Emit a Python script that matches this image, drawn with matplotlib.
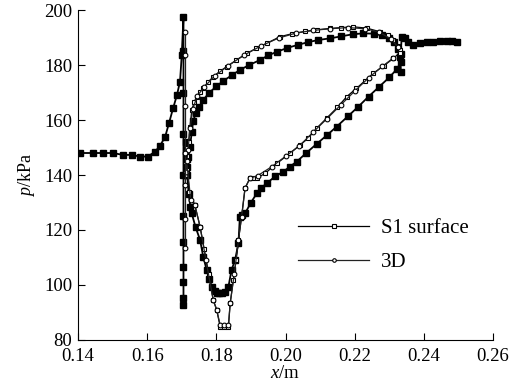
import matplotlib
matplotlib.use("Agg")
import matplotlib.pyplot as plt
import numpy as np

plt.rcParams['font.family'] = ['Liberation Serif', 'DejaVu Serif']
plt.rcParams['mathtext.fontset'] = 'custom'
plt.rcParams['mathtext.it'] = 'Liberation Serif:italic'
plt.rcParams['mathtext.rm'] = 'Liberation Serif'

# ---- filled-square series (unlabelled) ----
fill_up_x = [0.1405, 0.1443, 0.1472, 0.1501, 0.1530, 0.1556, 0.1579, 0.1602, 0.1623,
             0.1637, 0.1652, 0.1663, 0.1675, 0.1686, 0.1695, 0.1700, 0.1705,
             0.1705, 0.1705, 0.1705, 0.1705, 0.1705, 0.1705, 0.1705, 0.1705, 0.1705, 0.1705]
fill_up_p = [148.0, 148.0, 148.0, 148.0, 147.3, 147.3, 146.7, 146.7, 148.5,
             150.6, 153.9, 158.8, 164.3, 169.0, 174.0, 183.6, 197.6,
             185.0, 170.0, 155.0, 140.0, 125.0, 115.8, 106.7, 101.2, 95.2, 92.7]

fill_top_x = [0.1712, 0.1716, 0.1719, 0.1724, 0.1729, 0.1733, 0.1740, 0.1750, 0.1762, 0.1780,
              0.1800, 0.1820, 0.1845, 0.1868, 0.1895, 0.1926, 0.1950, 0.1975, 0.2005, 0.2035,
              0.2065, 0.2095, 0.2129, 0.2160, 0.2195, 0.2225, 0.2255, 0.2280, 0.2300, 0.2315,
              0.2325, 0.2331]
fill_top_p = [140.0, 143.0, 146.7, 150.3, 155.7, 159.5, 162.4, 164.8, 167.3, 170.0,
              172.2, 174.2, 176.3, 178.2, 180.0, 181.8, 183.5, 184.8, 186.2, 187.3,
              188.3, 189.1, 189.7, 190.4, 191.2, 191.5, 191.4, 190.8, 189.8, 188.3,
              186.0, 183.0]

fill_bot_x = [0.1712, 0.1714, 0.1716, 0.1720, 0.1725, 0.1729, 0.1740, 0.1753, 0.1762, 0.1772,
              0.1780, 0.1787, 0.1795, 0.1801, 0.1808, 0.1816, 0.1825, 0.1835, 0.1844, 0.1854,
              0.1864, 0.1868, 0.1875, 0.1883, 0.1900, 0.1917, 0.1930, 0.1946, 0.1970, 0.1994,
              0.2012, 0.2032, 0.2060, 0.2090, 0.2120, 0.2148, 0.2180, 0.2210, 0.2240, 0.2270,
              0.2300, 0.2322, 0.2333]
fill_bot_p = [152.0, 146.0, 140.0, 133.0, 128.5, 126.0, 121.0, 116.4, 110.3, 105.5,
              102.0, 99.4, 97.8, 97.0, 97.0, 97.0, 97.5, 99.4, 105.5, 109.0,
              115.2, 124.8, 125.5, 126.0, 130.0, 133.3, 135.3, 137.0, 139.5, 141.2,
              143.0, 144.8, 148.0, 151.3, 154.5, 157.6, 161.3, 164.8, 168.5, 172.0,
              175.5, 178.5, 181.0]

fill_wake_x = [0.2333, 0.2333, 0.2336, 0.2345, 0.2355, 0.2370, 0.2389, 0.2408, 0.2427, 0.2446,
               0.2466, 0.2480, 0.2495]
fill_wake_p = [177.6, 184.0, 190.3, 189.8, 188.5, 187.3, 187.9, 188.3, 188.5, 188.7,
               188.8, 188.6, 188.5]

# ---- S1 surface (open squares) ----
s1_top_x = [0.1712, 0.1716, 0.1720, 0.1724, 0.1729, 0.1736, 0.1743, 0.1752, 0.1762, 0.1776,
            0.1791, 0.1810, 0.1830, 0.1858, 0.1888, 0.1916, 0.1946, 0.1984, 0.2020, 0.2055,
            0.2090, 0.2129, 0.2160, 0.2196, 0.2235, 0.2273, 0.2295, 0.2312, 0.2325, 0.2331]
s1_top_p = [140.0, 147.0, 152.0, 157.6, 163.6, 166.5, 168.5, 170.2, 171.5, 173.8,
            175.7, 177.7, 179.4, 181.8, 184.2, 186.1, 187.9, 190.3, 191.4, 192.2,
            192.8, 193.3, 193.6, 193.9, 193.4, 192.1, 190.8, 189.1, 187.0, 185.5]
s1_bot_x = [0.1712, 0.1716, 0.1722, 0.1738, 0.1753, 0.1765, 0.1778, 0.1791, 0.1801, 0.1811,
            0.1823, 0.1835, 0.1840, 0.1849, 0.1857, 0.1864, 0.1873, 0.1883, 0.1897, 0.1907,
            0.1917, 0.1941, 0.1975, 0.2013, 0.2042, 0.2065, 0.2090, 0.2120, 0.2150, 0.2177,
            0.2205, 0.2230, 0.2254, 0.2285, 0.2312, 0.2330]
s1_bot_p = [150.0, 142.0, 134.0, 129.0, 121.2, 113.0, 104.0, 94.5, 91.0, 84.8,
            84.8, 84.8, 93.3, 101.8, 109.0, 116.4, 124.8, 135.2, 138.8, 138.8,
            138.8, 140.6, 144.2, 147.9, 150.9, 153.3, 157.0, 160.8, 164.6, 168.5,
            171.5, 174.3, 177.0, 179.8, 182.4, 184.5]

# ---- 3D (open circles) ----
d3_shock_x = [0.1708, 0.1708, 0.1708, 0.1708, 0.1708, 0.1708, 0.1708]
d3_shock_p = [192.0, 183.6, 165.0, 148.0, 136.4, 124.0, 113.3]
d3_top_x = [0.1712, 0.1718, 0.1724, 0.1732, 0.1745, 0.1765, 0.1795, 0.1835, 0.1880, 0.1930,
            0.1980, 0.2030, 0.2080, 0.2130, 0.2180, 0.2230, 0.2270, 0.2305, 0.2325]
d3_top_p = [141.0, 149.0, 157.0, 164.0, 168.8, 172.0, 176.0, 179.8, 183.6, 187.0,
            189.8, 191.6, 192.6, 193.2, 193.6, 193.2, 192.0, 189.5, 186.5]
d3_bot_x = [0.1714, 0.1726, 0.1738, 0.1753, 0.1770, 0.1791, 0.1801, 0.1811, 0.1823, 0.1835,
            0.1840, 0.1852, 0.1864, 0.1873, 0.1883, 0.1897, 0.1920, 0.1960, 0.2000, 0.2040,
            0.2080, 0.2120, 0.2160, 0.2200, 0.2240, 0.2280, 0.2312]
d3_bot_p = [145.0, 131.0, 129.0, 121.2, 109.0, 94.5, 91.0, 85.5, 85.5, 85.5,
            93.3, 104.0, 116.4, 124.8, 135.2, 138.8, 139.8, 143.0, 146.8, 150.6,
            155.6, 160.5, 165.5, 170.5, 175.3, 179.5, 182.6]

xticks = [0.14, 0.16, 0.18, 0.20, 0.22, 0.24, 0.26]
yticks = [80, 100, 120, 140, 160, 180, 200]

fig = plt.figure(figsize=(5.21, 3.85), dpi=100)
ax = fig.add_axes([0.1497, 0.1169, 0.7966, 0.8571])

fkw = dict(color='black', lw=1.3, marker='s', ms=4.0, mfc='black', mec='black')
for xs, ps in [(fill_up_x, fill_up_p), (fill_top_x, fill_top_p),
               (fill_bot_x, fill_bot_p), (fill_wake_x, fill_wake_p)]:
    ax.plot(xs, ps, **fkw)

skw = dict(color='black', lw=0.9, marker='s', ms=3.4, mfc='white', mec='black', mew=0.8)
ax.plot(s1_top_x, s1_top_p, label='S1 surface', **skw)
ax.plot(s1_bot_x, s1_bot_p, **skw)

ckw = dict(color='#222222', lw=0.9, marker='o', ms=3.4, mfc='white', mec='black', mew=0.8)
ax.plot(d3_top_x, d3_top_p, label='3D', **ckw)
ax.plot(d3_bot_x, d3_bot_p, **ckw)
ax.plot(d3_shock_x, d3_shock_p, **ckw)

ax.set_xlim(0.14, 0.26)
ax.set_ylim(80, 200)
ax.set_xticks(xticks)
ax.set_xticklabels([f'{t:.2f}' for t in xticks])
ax.set_yticks(yticks)
ax.tick_params(direction='in', length=5, width=0.8, labelsize=13.5)
ax.tick_params(axis='y', pad=4)
ax.tick_params(axis='x', pad=6)
for s in ['top', 'right']:
    ax.spines[s].set_visible(False)
ax.set_xlabel(r'$x$/m', fontsize=13.5, labelpad=0)
ax.set_ylabel(r'$p$/kPa', fontsize=13, labelpad=5)

ax.legend(loc='upper left', bbox_to_anchor=(0.484, 0.425), frameon=False,
          fontsize=15, handlelength=3.45, labelspacing=0.7, handletextpad=0.55,
          markerscale=0.75)

fig.savefig('out.png', dpi=100)
